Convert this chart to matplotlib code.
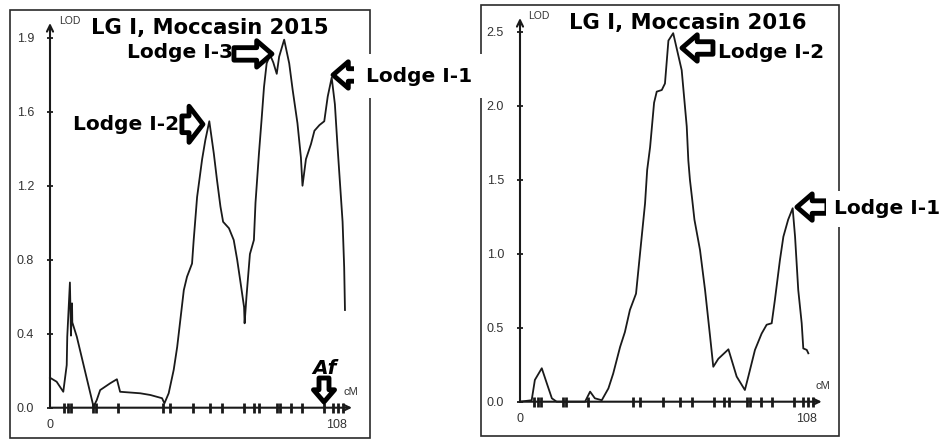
import matplotlib
matplotlib.use("Agg")
import matplotlib.pyplot as plt
from matplotlib.patches import Rectangle

# ---------------- data ----------------
markers_cM = [5.4, 6.9, 7.9, 16.2, 17.5, 25.8, 42.5, 45.3, 53.9, 60.1, 64.8, 72.9,
              76.7, 78.6, 85.5, 86.8, 90.6, 95.0, 103.1, 106.6, 108.5, 110.3]

cm_2015 = [0, 2.5, 5.0, 6.3, 6.5, 7.5, 7.9, 8.3, 8.4, 10.1, 16.4, 17.6, 18.9, 22.7, 25.2,
           26.4, 34.0, 37.8, 42.2, 43.1, 44.7, 46.6, 47.9, 50.4, 51.6, 53.5, 54.1, 55.4,
           57.3, 58.5, 60.0, 61.7, 62.9, 64.2, 65.2, 67.4, 69.2, 70.5, 71.8, 73.1, 73.3,
           74.0, 75.3, 76.8, 77.4, 78.7, 79.7, 80.6, 81.6, 82.9, 84.1, 85.4, 86.3, 88.2,
           90.1, 91.4, 93.2, 94.5, 95.1, 96.4, 98.3, 99.6, 101.5, 103.3, 104.6, 106.1,
           107.3, 108.3, 110.2, 110.8, 111.1]
lod_2015 = [0.158, 0.137, 0.084, 0.225, 0.374, 0.66, 0.38, 0.55, 0.45, 0.374, 0.005, 0.04,
            0.093, 0.129, 0.15, 0.084, 0.076, 0.067, 0.05, 0.023, 0.076, 0.2, 0.32, 0.62,
            0.69, 0.76, 0.88, 1.11, 1.31, 1.41, 1.51, 1.34, 1.20, 1.06, 0.98, 0.946, 0.884,
            0.78, 0.656, 0.53, 0.445, 0.585, 0.81, 0.884, 1.08, 1.34, 1.52, 1.69, 1.815,
            1.86, 1.82, 1.76, 1.85, 1.94, 1.815, 1.675, 1.50, 1.32, 1.17, 1.31, 1.39, 1.46,
            1.49, 1.51, 1.64, 1.74, 1.60, 1.376, 0.98, 0.74, 0.515]

cm_2016 = [0, 4.4, 5.6, 8.2, 10.1, 12.0, 13.8, 24.5, 26.4, 28.2, 30.8, 33.3, 35.1, 37.7,
           39.5, 41.4, 43.7, 45.2, 47.1, 47.9, 49.0, 50.5, 51.5, 53.4, 54.6, 55.9, 57.7,
           60.9, 62.8, 63.4, 64.0, 64.9, 65.7, 67.8, 69.7, 71.6, 72.8, 74.7, 78.5, 81.6,
           84.7, 86.0, 88.5, 91.0, 92.9, 94.8, 96.0, 97.9, 99.2, 101.0, 102.7, 103.6,
           104.8, 106.1, 106.7, 108.0, 108.6]
lod_2016 = [0, 0.01, 0.147, 0.226, 0.124, 0.023, 0.0, 0.0, 0.068, 0.023, 0.01, 0.09, 0.19,
            0.37, 0.47, 0.62, 0.73, 1.0, 1.34, 1.566, 1.72, 2.02, 2.095, 2.106, 2.15, 2.44,
            2.49, 2.24, 1.86, 1.63, 1.50, 1.36, 1.23, 1.025, 0.755, 0.44, 0.236, 0.29,
            0.354, 0.17, 0.079, 0.17, 0.35, 0.46, 0.52, 0.53, 0.687, 0.957, 1.115, 1.23,
            1.307, 1.115, 0.755, 0.53, 0.36, 0.35, 0.327]

yticks_2015 = [0, 0.39, 0.78, 1.17, 1.56, 1.95]
ylabels_2015 = ["0.0", "0.4", "0.8", "1.2", "1.6", "1.9"]
yticks_2016 = [0, 0.5, 1.0, 1.5, 2.0, 2.5]
ylabels_2016 = ["0.0", "0.5", "1.0", "1.5", "2.0", "2.5"]
xticks = [0, 108]
xlabels = ["0", "108"]

titles = ["LG I, Moccasin 2015", "LG I, Moccasin 2016"]

# ---------------- figure ----------------
W, H = 939, 441
fig = plt.figure(figsize=(W / 100, H / 100), dpi=100)
fig.patch.set_facecolor("white")


def fx(px):
    return px / W


def fy(py):
    return 1 - py / H


def make_axes(x0, xend, y0, ytop, xmax, ymax):
    ax = fig.add_axes([fx(x0), fy(y0), fx(xend) - fx(x0), fy(ytop) - fy(y0)])
    ax.set_xlim(0, xmax)
    ax.set_ylim(0, ymax)
    ax.patch.set_visible(False)
    for s in ax.spines.values():
        s.set_visible(False)
    ap = dict(arrowstyle="->,head_length=0.45,head_width=0.22", lw=1.5, color="#1a1a1a",
              shrinkA=0, shrinkB=0)
    ax.annotate("", xy=(0, 1), xytext=(0, 0), xycoords="axes fraction", arrowprops=ap)
    ax.annotate("", xy=(1, 0), xytext=(0, 0), xycoords="axes fraction", arrowprops=ap)
    return ax


CURVE = "#1a1a1a"
TICKFONT = dict(family="Liberation Sans", size=9)
BOLD = dict(family="DejaVu Sans", weight="bold", size=14.5)
TITLE = dict(family="DejaVu Sans", weight="bold", size=15.2)


def style(ax, yt, yl):
    ax.set_yticks(yt)
    ax.set_yticklabels(yl, color="#333333", **TICKFONT)
    ax.set_xticks(xticks)
    ax.set_xticklabels(xlabels, color="#333333", **TICKFONT)
    ax.tick_params(axis="y", direction="inout", length=5, width=1.3, pad=9, color="#1a1a1a")
    ax.tick_params(axis="x", length=0, pad=8)
    ax.plot(markers_cM, [0] * len(markers_cM), ls="none", marker="|", ms=7.5, mew=2,
            color="#1a1a1a", clip_on=False)


def hollow(ax, tip, dxpx, dypx, scale=20, hw=0.95, hl=0.55, tw=0.45):
    ax.annotate("", xy=tip, xycoords="data",
                xytext=(dxpx * 0.72, dypx * 0.72), textcoords="offset points",
                arrowprops=dict(arrowstyle=f"simple,head_length={hl},head_width={hw},tail_width={tw}",
                                fc="white", ec="black", lw=3.5, shrinkA=0, shrinkB=0,
                                mutation_scale=scale), zorder=6)


# frames
fig.add_artist(Rectangle((fx(10), fy(438)), fx(370) - fx(10), fy(10) - fy(438),
                         transform=fig.transFigure, fill=False, ec="#2a2a2a", lw=1.2, zorder=-1))
fig.add_artist(Rectangle((fx(481), fy(436)), fx(839) - fx(481), fy(5) - fy(436),
                         transform=fig.transFigure, fill=False, ec="#2a2a2a", lw=1.2, zorder=-1))

# ---------- left panel (2015) ----------
axL = make_axes(50, 352, 407.7, 23, 302 / 2.655, 384.7 / 189.7)
style(axL, yticks_2015, ylabels_2015)
axL.plot(cm_2015, lod_2015, color=CURVE, lw=1.3, clip_on=False)

fig.text(fx(59), fy(21), "LOD", family="Liberation Sans", size=7.5, color="#333333",
         ha="left", va="center")
fig.text(fx(91), fy(28), titles[0], ha="left", va="center", **TITLE)
fig.text(fx(127), fy(52), "Lodge I-3", ha="left", va="center", **BOLD)
fig.text(fx(73), fy(125), "Lodge I-2", ha="left", va="center", **BOLD)
fig.text(fx(366), fy(76), "Lodge I-1", ha="left", va="center", zorder=5,
         bbox=dict(fc="white", ec="none", pad=9), **BOLD)
fig.text(fx(312), fy(368), "Af", ha="left", va="center", family="DejaVu Sans",
         weight="bold", style="italic", size=14.5)
fig.text(fx(344), fy(392), "cM", family="Liberation Sans", size=8, color="#333333",
         ha="left", va="center")

hollow(axL, (83.6, 1.865), -38, 0)
hollow(axL, (57.6, 1.494), -21, 0, hw=1.3, hl=0.5, tw=0.6)
hollow(axL, (106.6, 1.754), 30, 0)
hollow(axL, (103.2, 0.03), 0, 24, scale=16)

# ---------- right panel (2016) ----------
axR = make_axes(520, 821.7, 401.7, 18, 301.7 / 2.655, 383.7 / 148)
style(axR, yticks_2016, ylabels_2016)
axR.plot(cm_2016, lod_2016, color=CURVE, lw=1.3, clip_on=False)

fig.text(fx(528), fy(16), "LOD", family="Liberation Sans", size=7.5, color="#333333",
         ha="left", va="center")
fig.text(fx(569), fy(23), titles[1], ha="left", va="center", **TITLE)
fig.text(fx(718), fy(52), "Lodge I-2", ha="left", va="center", **BOLD)
fig.text(fx(834), fy(209), "Lodge I-1", ha="left", va="center", zorder=5,
         bbox=dict(fc="white", ec="none", pad=6), **BOLD)
fig.text(fx(815), fy(386), "cM", family="Liberation Sans", size=8, color="#333333",
         ha="left", va="center")

hollow(axR, (61.0, 2.39), 31, 0)
hollow(axR, (104.3, 1.315), 30, 0)

fig.savefig("out.png", dpi=100)
